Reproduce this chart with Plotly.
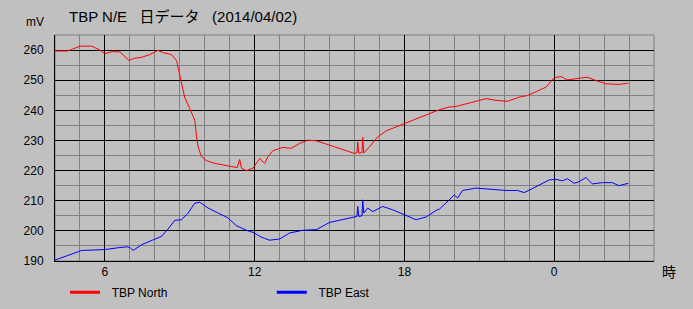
import plotly.graph_objects as go

# ---- data (hours from 0:00 of 2014/04/02; >24 = next day) ----
north_hours = [4.0, 4.5, 4.7, 5.0, 5.47, 5.8, 6.0, 6.3, 6.6, 6.96, 7.2, 7.47, 7.8, 8.13, 8.3,
               8.67, 8.87, 9.04, 9.2, 9.4, 9.6, 9.67, 9.73, 9.87, 10.07, 10.4, 10.8, 11.07,
               11.3, 11.4, 11.47, 11.67, 11.93, 12.2, 12.4, 12.53, 12.73, 13.13, 13.47, 13.8,
               14.13, 14.47, 14.87, 15.27, 15.67, 16.0, 16.1, 16.13, 16.17, 16.3, 16.33, 16.37,
               16.6, 16.93, 17.27, 17.67, 18.0, 18.47, 19.0, 19.4, 19.8, 20.07, 20.87, 21.27,
               21.67, 22.13, 22.6, 22.93, 23.33, 23.67, 24.0, 24.27, 24.53, 25.0, 25.33, 25.67,
               26.07, 26.6, 26.97]
north_mv = [259.7, 259.7, 260.3, 261.3, 261.3, 260.0, 258.8, 259.5, 259.4, 256.6, 257.3, 257.6,
            258.5, 259.9, 259.2, 258.5, 256.5, 250.5, 244.2, 240.6, 236.7, 231.5, 228.0, 224.6,
            223.3, 222.4, 221.8, 221.3, 221.0, 223.7, 220.8, 220.0, 220.8, 224.0, 222.4, 224.6,
            226.6, 227.7, 227.4, 229.0, 230.1, 229.9, 228.8, 227.9, 226.8, 225.7, 226.0, 229.5,
            225.8, 226.0, 231.0, 225.8, 227.9, 231.2, 233.2, 234.5, 235.8, 237.3, 238.9, 240.2,
            241.1, 241.3, 243.0, 243.9, 243.3, 243.0, 244.4, 244.9, 246.4, 247.7, 250.8, 251.2,
            250.1, 250.5, 251.0, 249.9, 248.8, 248.6, 249.0]

east_hours = [4.0, 4.27, 4.6, 5.07, 6.0, 6.53, 6.87, 7.0, 7.13, 7.47, 8.0, 8.27, 8.53, 8.8,
              9.07, 9.33, 9.6, 9.8, 10.13, 10.53, 10.93, 11.27, 11.67, 12.0, 12.2, 12.4, 12.6,
              13.0, 13.4, 13.93, 14.47, 15.0, 15.53, 15.93, 16.1, 16.13, 16.17, 16.3, 16.33,
              16.37, 16.53, 16.73, 17.13, 17.53, 17.93, 18.47, 18.87, 19.27, 19.4, 19.8, 20.0,
              20.13, 20.33, 20.87, 21.4, 22.07, 22.53, 22.8, 23.07, 23.4, 23.8, 24.07, 24.33,
              24.53, 24.8, 25.0, 25.27, 25.53, 25.93, 26.33, 26.6, 26.97]
east_mv = [190.3, 191.0, 192.1, 193.5, 193.8, 194.4, 194.7, 194.5, 193.5, 195.4, 197.1, 198.2,
           200.6, 203.5, 203.7, 205.9, 209.2, 209.5, 207.6, 205.9, 204.3, 201.7, 200.2, 199.3,
           198.2, 197.5, 196.9, 197.3, 199.3, 200.2, 200.4, 202.8, 203.7, 204.5, 204.8, 208.1,
           204.8, 205.0, 210.3, 205.9, 207.6, 206.4, 208.1, 207.0, 205.7, 203.7, 204.6, 206.8,
           207.2, 210.3, 211.9, 210.9, 213.4, 214.2, 213.8, 213.4, 213.4, 212.7, 213.8, 215.2,
           216.9, 217.1, 216.6, 217.3, 215.8, 216.3, 217.7, 215.6, 216.0, 216.0, 215.0, 215.8]

x_tickvals = [6, 12, 18, 24]
x_ticktext = ["6", "12", "18", "0"]
series_names = ["TBP North", "TBP East"]
title_text = "TBP N/E\u00a0\u00a0\u00a0日データ\u00a0\u00a0\u00a0(2014/04/02)"

RED = "#FF0000"
BLUE = "#0000FF"
BG = "#C0C0C0"
GRID_MINOR = "#808080"
FONT = "Liberation Sans, Noto Sans CJK JP, sans-serif"

fig = go.Figure()
fig.add_trace(go.Scatter(x=north_hours, y=north_mv, mode="lines",
                         line=dict(color=RED, width=1), showlegend=False, hoverinfo="skip"))
fig.add_trace(go.Scatter(x=east_hours, y=east_mv, mode="lines",
                         line=dict(color=BLUE, width=1), showlegend=False, hoverinfo="skip"))
# legend entries (thicker line sample)
fig.add_trace(go.Scatter(x=[None], y=[None], mode="lines", name="\u00a0\u00a0" + series_names[0],
                         line=dict(color=RED, width=3), legend="legend"))
fig.add_trace(go.Scatter(x=[None], y=[None], mode="lines", name="\u00a0\u00a0" + series_names[1],
                         line=dict(color=BLUE, width=3), legend="legend2"))

W, H = 693, 309
L, R, T, B = 55, 38.5, 34.5, 47.5
pw, ph = W - L - R, H - T - B

def px(xp):
    return (xp - L) / pw

def py(yp):
    return (H - B - yp) / ph

fig.update_layout(
    width=W, height=H,
    margin=dict(l=L, r=R, t=T, b=B, pad=0, autoexpand=False),
    paper_bgcolor=BG, plot_bgcolor=BG,
    font=dict(family=FONT, size=12, color="black"),
    xaxis=dict(range=[4, 28], tickvals=x_tickvals, ticktext=x_ticktext,
               showgrid=True, gridcolor="black", gridwidth=1,
               minor=dict(dtick=1, tick0=4, showgrid=True, gridcolor=GRID_MINOR, gridwidth=1),
               showline=True, linecolor="black", linewidth=1, zeroline=False,
               ticks="", ticklabelstandoff=0, fixedrange=True, automargin=False),
    yaxis=dict(range=[190, 265], dtick=10, tick0=190,
               showgrid=True, gridcolor="black", gridwidth=1,
               minor=dict(dtick=5, tick0=190, showgrid=True, gridcolor=GRID_MINOR, gridwidth=1),
               showline=True, linecolor="black", linewidth=1, zeroline=False,
               ticks="", ticklabelstandoff=8, fixedrange=True, automargin=False),
    legend=dict(orientation="h", x=px(65), y=py(293), xanchor="left", yanchor="middle",
                bgcolor="rgba(0,0,0,0)", font=dict(size=12)),
    legend2=dict(orientation="h", x=px(272), y=py(293), xanchor="left", yanchor="middle",
                 bgcolor="rgba(0,0,0,0)", font=dict(size=12)),
    shapes=[dict(type="rect", xref="paper", yref="paper", x0=0, x1=1, y0=0, y1=1,
                 line=dict(color=GRID_MINOR, width=1), layer="below")],
    annotations=[
        dict(text=title_text, xref="paper", yref="paper", x=px(67), y=py(16),
             xanchor="left", yanchor="middle", showarrow=False, font=dict(size=15)),
        dict(text="mV", xref="paper", yref="paper", x=px(24), y=py(21),
             xanchor="left", yanchor="middle", showarrow=False, font=dict(size=12)),
        dict(text="時", xref="paper", yref="paper", x=px(670), y=py(273),
             xanchor="center", yanchor="middle", showarrow=False, font=dict(size=14)),
    ],
)

fig.write_html("out.html")
